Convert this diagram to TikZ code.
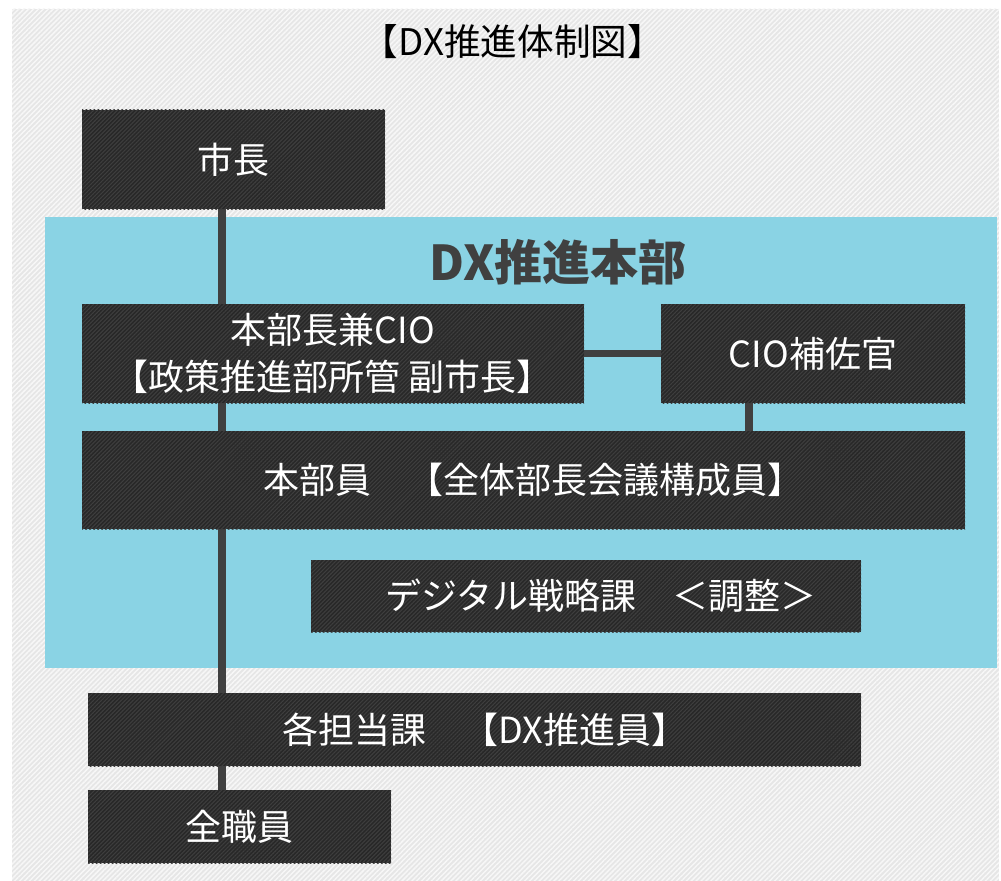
\documentclass[tikz,border=0pt]{standalone}
\usepackage{fontspec}
\setmainfont{Noto Sans CJK JP}
\usepackage{tikz}
\usetikzlibrary{backgrounds, patterns.meta}
\definecolor{paper}{RGB}{230, 230, 230}
\definecolor{paperline}{RGB}{247, 247, 247}
\definecolor{hqblue}{RGB}{138, 211, 228}
\definecolor{boxdark}{RGB}{40, 40, 40}
\definecolor{boxline}{RGB}{62, 62, 62}
\definecolor{linkgray}{RGB}{64, 64, 64}
\pgfdeclarelayer{links}
\pgfsetlayers{background, links, main}
\tikzset{
  unit/.style={inner sep=0pt, fill=boxdark, text=white, align=center,
    postaction={pattern={Lines[angle=45, distance=2.1pt, line width=0.8pt]}, pattern color=boxline},
    font=\fontsize{27}{35}\selectfont},
  link/.style={draw=linkgray, line width=5.8pt}
}

\begin{document}
\begin{tikzpicture}[x=0.75pt, y=-0.75pt]
  \useasboundingbox (0, 0) rectangle (1001, 881);

  \begin{scope}[on background layer]
    \fill [paper, postaction={pattern={Lines[angle=45, distance=2.6pt, line width=1.1pt]}, pattern color=paperline}]
      (12, 9) rectangle (999, 881);
    \fill [hqblue] (45, 217) rectangle (997, 668);
  \end{scope}

  \node [font=\fontsize{27.5}{30}\selectfont] (title) at (513, 42) {【DX推進体制図】};
  \node [font=\fontsize{36}{40}\selectfont\bfseries, text=linkgray] (hq) at (558, 262) {DX推進本部};

  % boxes
  \node [unit, minimum width=227.25pt, minimum height=74.25pt] (mayor) at (233.5, 159.5) {市長};
  \node [unit, minimum width=376.5pt, minimum height=74.25pt] (cio) at (333, 353.5) {本部長兼CIO\\【政策推進部所管 副市長】};
  \node [unit, minimum width=228pt, minimum height=74.25pt] (aide) at (813, 353.5) {CIO補佐官};
  \node [unit, minimum width=662.25pt, minimum height=73.5pt] (members) at (523.5, 480) {\hspace{15pt}本部員　【全体部長会議構成員】};
  \node [unit, minimum width=412.5pt, minimum height=54pt] (digital) at (586, 596) {\hspace{22pt}デジタル戦略課　＜調整＞};
  \node [unit, minimum width=579.75pt, minimum height=54.75pt] (sections) at (474.5, 729.5) {\hspace{16pt}各担当課　【DX推進員】};
  \node [unit, minimum width=227.25pt, minimum height=54.75pt] (allstaff) at (239.5, 826.5) {全職員};

  % connectors
  \coordinate (spine) at (222, 0);
  \coordinate (tap) at (749, 0);
  \begin{pgfonlayer}{links}
    \draw [link] (mayor.south -| spine) -- (allstaff.north -| spine);
    \draw [link] (cio.east) -- (aide.west);
    \draw [link] (aide.south -| tap) -- (members.north -| tap);
  \end{pgfonlayer}
\end{tikzpicture}
\end{document}
